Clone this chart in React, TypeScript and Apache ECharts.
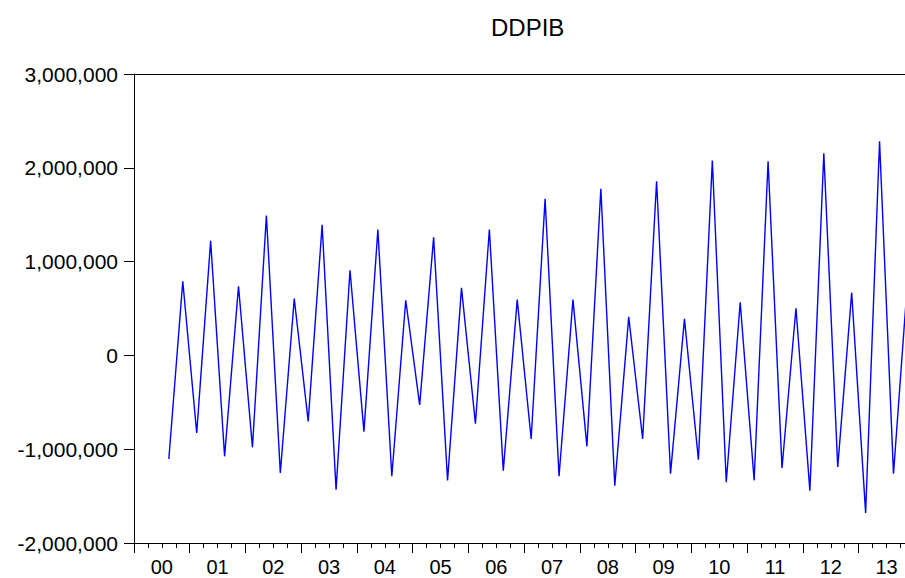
import React, { useEffect, useRef } from "react";
import * as echarts from "echarts";

// Year labels (2000 .. 2013)
const yearLabels: string[] = ["00", "01", "02", "03", "04", "05", "06", "07", "08", "09", "10", "11", "12", "13"];
const quarterNames: string[] = ["Q1", "Q2", "Q3", "Q4"];

// DDPIB, quarterly, 2000Q1 .. 2013Q4 (first two lost to double differencing)
const ddpib: (number | null)[] = [
  null, null, -1104000, 790000,
  -827000, 1221000, -1076000, 737000,
  -980000, 1492000, -1253000, 606000,
  -703000, 1392000, -1431000, 908000,
  -813000, 1342000, -1289000, 588000,
  -528000, 1260000, -1332000, 720000,
  -727000, 1342000, -1229000, 595000,
  -891000, 1669000, -1289000, 595000,
  -970000, 1776000, -1389000, 411000,
  -891000, 1857000, -1261000, 389000,
  -1111000, 2078000, -1353000, 566000,
  -1332000, 2070000, -1200000, 502000,
  -1442000, 2156000, -1189000, 670000,
  -1680000, 2284000, -1261000, 780000,
];

const yMin = -2000000;
const yMax = 3000000;
const yStep = 1000000;

const quarterCategories: string[] = [];
yearLabels.forEach((y) => quarterNames.forEach((q) => quarterCategories.push("20" + y + q)));

const FONT = "'Liberation Sans', Arial, sans-serif";

export default function App() {
  const ref = useRef<HTMLDivElement>(null);
  useEffect(() => {
    if (!ref.current) return;
    const chart = echarts.init(ref.current, undefined, { renderer: "svg" });
    const black = "#000000";
    chart.setOption({
      animation: false,
      backgroundColor: "#ffffff",
      title: {
        text: "DDPIB",
        left: 486,
        top: 10,
        textStyle: { fontFamily: FONT, fontSize: 24, fontWeight: "normal", color: black },
      },
      grid: { left: 134, top: 74, bottom: 35, right: 5.6, containLabel: false },
      xAxis: [
        {
          type: "category",
          data: quarterCategories,
          position: "bottom",
          boundaryGap: true,
          axisLine: { show: true, onZero: false, lineStyle: { color: black, width: 1 } },
          axisTick: { show: true, interval: 0, length: 5, alignWithLabel: false, lineStyle: { color: black } },
          axisLabel: { show: false },
          splitLine: { show: false },
        },
        {
          type: "category",
          data: yearLabels,
          position: "bottom",
          boundaryGap: true,
          axisLine: { show: false, onZero: false },
          axisTick: { show: true, interval: 0, length: 10, alignWithLabel: false, lineStyle: { color: black } },
          axisLabel: { show: true, interval: 0, fontFamily: FONT, fontSize: 20, color: black, margin: 14 },
          splitLine: { show: false },
        },
        {
          type: "category",
          data: yearLabels,
          position: "top",
          boundaryGap: true,
          axisLine: { show: true, onZero: false, lineStyle: { color: black, width: 1 } },
          axisTick: { show: false },
          axisLabel: { show: false },
          splitLine: { show: false },
        },
      ],
      yAxis: {
        type: "value",
        min: yMin,
        max: yMax,
        interval: yStep,
        axisLine: { show: true, onZero: false, lineStyle: { color: black, width: 1 } },
        axisTick: { show: true, length: 10, lineStyle: { color: black } },
        axisLabel: {
          fontFamily: FONT,
          fontSize: 21,
          color: black,
          margin: 16,
          formatter: (v: number) => v.toLocaleString("en-US"),
        },
        splitLine: { show: false },
      },
      series: [
        {
          type: "line",
          xAxisIndex: 0,
          yAxisIndex: 0,
          data: ddpib,
          symbol: "none",
          showSymbol: false,
          lineStyle: { color: "#0000ff", width: 1.4 },
          connectNulls: false,
        },
      ],
    });
    return () => chart.dispose();
  }, []);
  return (
    <div
      ref={ref}
      style={{ position: "fixed", left: 0, top: 0, width: 920, height: 578, overflow: "hidden", background: "#fff" }}
    />
  );
}
